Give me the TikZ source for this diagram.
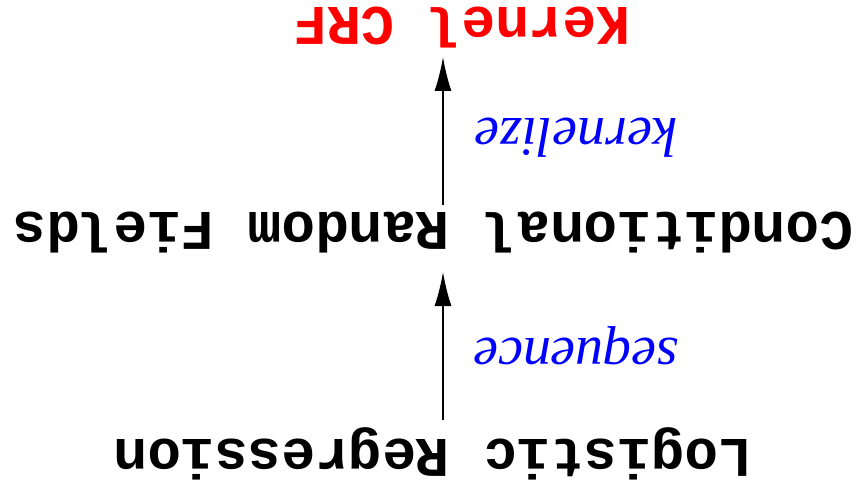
\documentclass[tikz,border=0pt]{standalone}
\usepackage{fontspec}
\setmainfont{Liberation Serif}
\setmonofont{Liberation Mono}
\usetikzlibrary{arrows.meta}
\begin{document}
\begin{tikzpicture}[x=1pt,y=-1pt,
  term/.style={rotate=180,inner sep=0pt,font=\fontsize{56}{60}\selectfont\ttfamily\bfseries},
  lbl/.style={rotate=180,inner sep=0pt,text=blue,font=\fontsize{56}{60}\selectfont\itshape},
  arr/.style={line width=1.5pt,-{Latex[length=34pt,width=17pt]}}]
\useasboundingbox (0,0) rectangle (862,489);
\node[term,text=red] (kern) at (462,28) {Kernel CRF};
\node[term] (crf) at (433,233) {Conditional Random Fields};
\node[term] (lr) at (433,454) {Logistic Regression};
\node[lbl] (k) at (576,138) {kernelize};
\node[lbl] (s) at (576,346) {sequence};
\coordinate (ax) at (443,0);
\draw[arr] ([yshift=28pt]ax |- crf.center) -- ([yshift=-29pt]ax |- kern.center);
\draw[arr] ([yshift=34pt]ax |- lr.center) -- ([yshift=-39pt]ax |- crf.center);
\end{tikzpicture}
\end{document}
